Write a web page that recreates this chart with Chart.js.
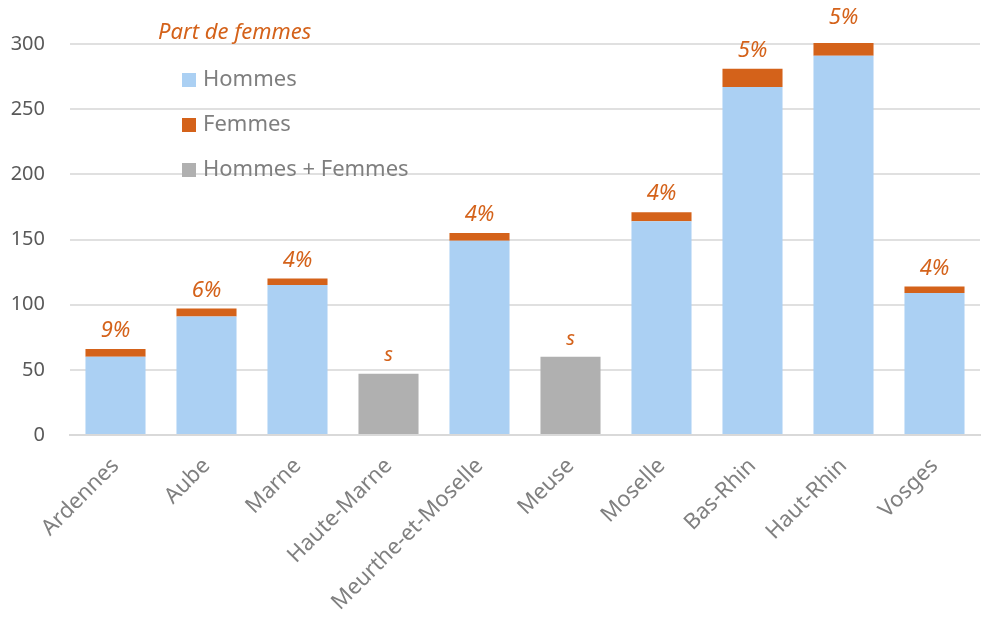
<!DOCTYPE html>
<html lang="fr">
<head>
  <meta charset="UTF-8">
  <title>Effectifs par département</title>
  <script src="https://cdn.jsdelivr.net/npm/chart.js"></script>
  <style>
    body { margin: 0; background: white; }
    #wrap { width: 984px; height: 617px; }
  </style>
</head>
<body>
  <div id="wrap"><canvas id="chart"></canvas></div>
  <script>
    // effectifs par département (s = secret statistique, seul le total est diffusé)
    const departements = ['Ardennes', 'Aube', 'Marne', 'Haute-Marne', 'Meurthe-et-Moselle', 'Meuse', 'Moselle', 'Bas-Rhin', 'Haut-Rhin', 'Vosges'];
    const hommes = [60, 91, 115, null, 149, null, 164, 267, 291, 109];
    const femmes = [6, 6, 5, null, 6, null, 7, 14, 15, 5];
    const ensemble = [null, null, null, 47, null, 60, null, null, null, null];
    const yTicks = [0, 50, 100, 150, 200, 250, 300];

    const ORANGE = '#d4621a';
    const FONT = '"Noto Sans", sans-serif';

    function partFemmes(i) {
      if (hommes[i] == null) return 's';
      return Math.round(100 * femmes[i] / (hommes[i] + femmes[i])) + '%';
    }

    // pourcentage de femmes au-dessus de chaque barre
    const valueLabels = {
      id: 'valueLabels',
      afterDatasetsDraw(chart) {
        const ctx = chart.ctx;
        const x = chart.scales.x, y = chart.scales.y;
        ctx.save();
        ctx.fillStyle = ORANGE;
        ctx.textAlign = 'center';
        ctx.textBaseline = 'middle';
        departements.forEach((d, i) => {
          const total = hommes[i] != null ? hommes[i] + femmes[i] : ensemble[i];
          const txt = partFemmes(i);
          ctx.font = 'italic ' + (txt === 's' ? 20 : 22) + 'px ' + FONT;
          ctx.fillText(txt, x.getPixelForValue(i), y.getPixelForValue(total) - 18);
        });
        ctx.restore();
      }
    };

    // légende posée dans la zone de tracé
    const legendBox = {
      id: 'legendBox',
      afterDatasetsDraw(chart) {
        const ctx = chart.ctx;
        ctx.save();
        ctx.textBaseline = 'middle';
        ctx.textAlign = 'left';
        ctx.fillStyle = ORANGE;
        ctx.font = 'italic 22px ' + FONT;
        ctx.fillText('Part de femmes', 158, 33);
        ctx.font = '22px ' + FONT;
        chart.data.datasets.forEach((ds, i) => {
          const cy = 80 + i * 45;
          ctx.fillStyle = ds.backgroundColor;
          ctx.fillRect(182, cy - 7, 14, 14);
          ctx.fillStyle = '#7f7f7f';
          ctx.fillText(ds.label, 203, cy);
        });
        ctx.restore();
      }
    };

    new Chart(document.getElementById('chart'), {
      type: 'bar',
      data: {
        labels: departements,
        datasets: [
          { label: 'Hommes', data: hommes, backgroundColor: '#abd0f3', clip: 1 },
          { label: 'Femmes', data: femmes, backgroundColor: ORANGE, clip: 1 },
          { label: 'Hommes + Femmes', data: ensemble, backgroundColor: '#b0b0b0', clip: 1 }
        ]
      },
      options: {
        responsive: true,
        maintainAspectRatio: false,
        animation: false,
        barPercentage: 0.66,
        categoryPercentage: 1,
        layout: { padding: { top: 44, right: 4, left: 0, bottom: 0 } },
        plugins: { legend: { display: false }, tooltip: { enabled: false } },
        scales: {
          x: {
            stacked: true,
            grid: { display: false, drawTicks: false },
            border: { color: '#d9d9d9', width: 2 },
            ticks: {
              color: '#808080',
              font: { family: FONT, size: 22 },
              maxRotation: 45,
              minRotation: 45,
              padding: 18,
              autoSkip: false
            },
            afterFit(s) { s.height = 182; }
          },
          y: {
            stacked: true,
            min: 0,
            max: 300,
            afterBuildTicks(s) { s.ticks = yTicks.map(v => ({ value: v })); },
            grid: { color: '#e0e0e0', lineWidth: 2, drawTicks: false },
            border: { display: false },
            ticks: {
              color: '#595959',
              font: { family: FONT, size: 20 },
              padding: 25
            },
            afterFit(s) { s.width = 70; }
          }
        }
      },
      plugins: [valueLabels, legendBox]
    });
  </script>
</body>
</html>
